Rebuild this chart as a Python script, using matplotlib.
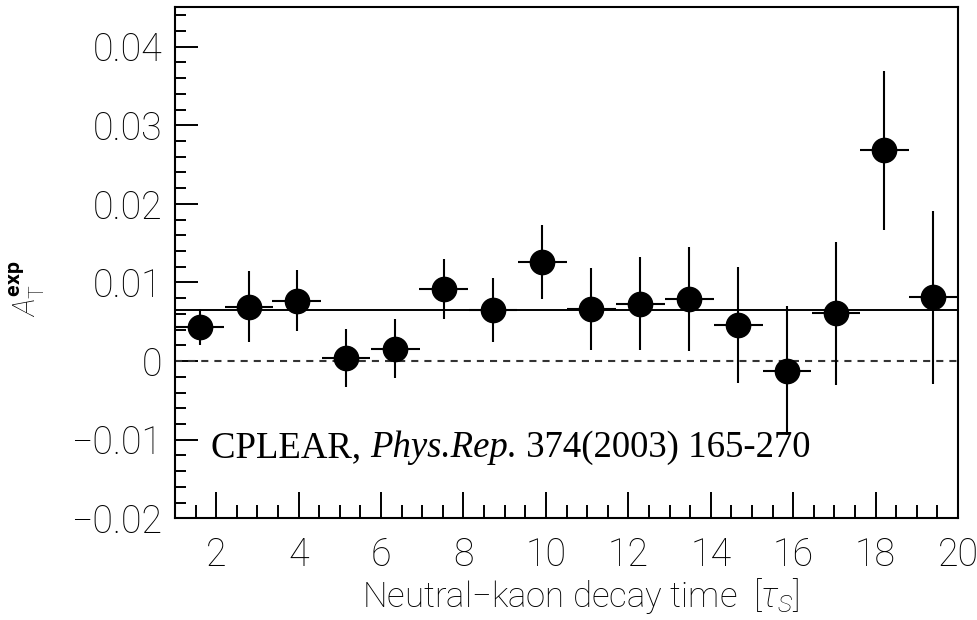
import matplotlib
matplotlib.use("Agg")
import matplotlib.pyplot as plt
from matplotlib.ticker import MultipleLocator, FixedLocator
from matplotlib import font_manager

# ---- data ----
decay_time = [1.6, 2.8, 3.95, 5.15, 6.35, 7.52, 8.72, 9.91,
              11.1, 12.29, 13.48, 14.67, 15.85, 17.04, 18.21, 19.4]
time_halfwidth = [0.59] * 16
asym = [0.0043, 0.0069, 0.0077, 0.0004, 0.0016, 0.0092, 0.0065, 0.0126,
        0.0066, 0.0073, 0.0079, 0.0046, -0.0012, 0.0061, 0.0268, 0.0081]
asym_err = [0.0023, 0.0045, 0.0039, 0.0037, 0.0037, 0.0038, 0.0041, 0.0047,
            0.0052, 0.0059, 0.0066, 0.0074, 0.0082, 0.0091, 0.0101, 0.0110]
fit_value = 0.0065
x_ticks = [2, 4, 6, 8, 10, 12, 14, 16, 18, 20]
y_ticks = [-0.02, -0.01, 0, 0.01, 0.02, 0.03, 0.04]
y_ticklabels = ["\u22120.02", "\u22120.01", "0", "0.01", "0.02", "0.03", "0.04"]
note_parts = ["CPLEAR, ", "Phys.Rep.", " 374(2003) 165-270"]

avail = {f.name for f in font_manager.fontManager.ttflist}
sans = "Roboto" if "Roboto" in avail else "DejaVu Sans"

plt.rcParams["mathtext.fontset"] = "custom"
plt.rcParams["mathtext.rm"] = f"{sans}:light"
plt.rcParams["mathtext.it"] = f"{sans}:italic:light"
plt.rcParams["mathtext.bf"] = f"{sans}:bold"

fig = plt.figure(figsize=(9.77, 6.20), dpi=100)
ax = fig.add_axes([0.1791, 0.164, 0.9806 - 0.1791, 0.9882 - 0.164])

ax.axhline(fit_value, color="black", lw=1.4, zorder=2)
ax.axhline(0, color="#333333", lw=1.5, dashes=(3.4, 2.9), zorder=2)

ax.errorbar(decay_time, asym, xerr=time_halfwidth, yerr=asym_err,
            fmt="o", color="black", ms=17.5, elinewidth=1.5, capsize=0,
            zorder=3)

ax.set_xlim(1, 20)
ax.set_ylim(-0.02, 0.045)

ax.xaxis.set_major_locator(FixedLocator(x_ticks))
ax.xaxis.set_minor_locator(MultipleLocator(0.5))
ax.yaxis.set_major_locator(FixedLocator(y_ticks))
ax.yaxis.set_minor_locator(MultipleLocator(0.002))
ax.set_yticklabels(y_ticklabels)
ax.set_xticklabels([str(t) for t in x_ticks])

ax.tick_params(axis="both", which="both", direction="in", top=False, right=False, width=1.4)
ax.tick_params(axis="y", which="major", length=16.5, pad=9)
ax.tick_params(axis="y", which="minor", length=8)
ax.tick_params(axis="x", which="major", length=18.5, pad=13)
ax.tick_params(axis="x", which="minor", length=9.5)
for lab in ax.get_xticklabels() + ax.get_yticklabels():
    lab.set_fontfamily(sans)
    lab.set_fontweight("light")
    lab.set_fontsize(27)
for s in ax.spines.values():
    s.set_linewidth(1.5)

xl = ax.set_xlabel("Neutral\u2212kaon decay time  [$\\tau_S$]", fontsize=25,
                   fontfamily=sans, fontweight="light")
xl.set_va("baseline")
ax.xaxis.set_label_coords(0.518, -0.174)

ax.set_ylabel(r"$A_{\rm T}^{\bf exp}$", fontsize=22)
ax.yaxis.set_label_coords(-0.163, 0.45)

t1 = ax.text(1.87, -0.0122, note_parts[0], fontsize=26.5,
             fontfamily="Liberation Serif", ha="left", va="baseline", zorder=4)
t2 = ax.annotate(note_parts[1], xy=(1, 0), xycoords=t1, fontsize=26.5,
                 fontfamily="Liberation Serif", style="italic",
                 ha="left", va="bottom", zorder=4)
t3 = ax.annotate(note_parts[2], xy=(1, 0), xycoords=t2, fontsize=26.5,
                 fontfamily="Liberation Serif", ha="left", va="bottom", zorder=4)

fig.savefig("out.png", dpi=100)
